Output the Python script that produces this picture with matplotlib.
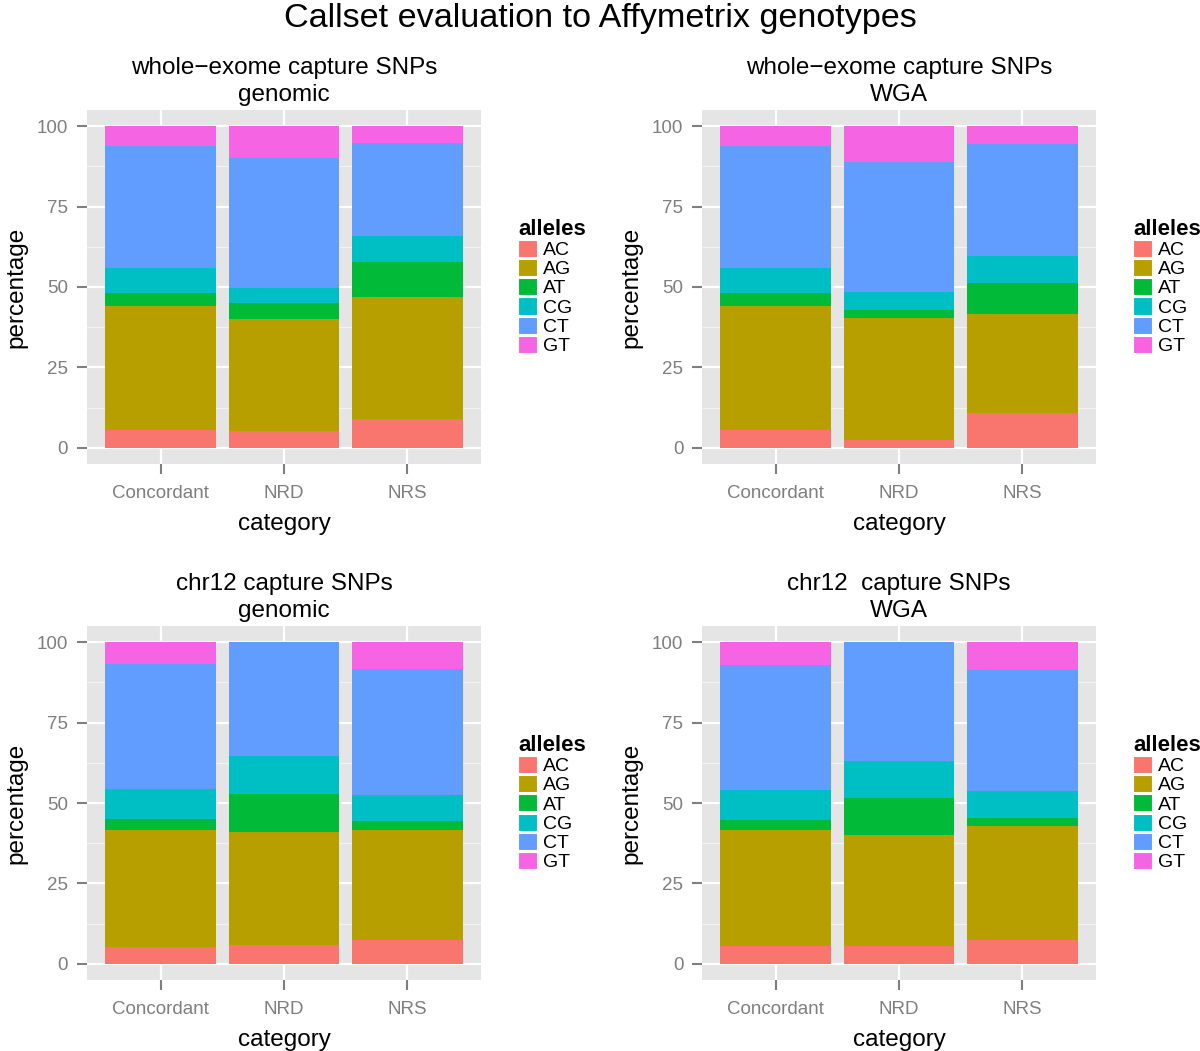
import matplotlib
matplotlib.use("Agg")
import matplotlib.pyplot as plt
from matplotlib.patches import Patch
import numpy as np

plt.rcParams['font.family'] = ['Liberation Sans', 'DejaVu Sans']

categories = ["Concordant", "NRD", "NRS"]
alleles = ["AC", "AG", "AT", "CG", "CT", "GT"]
colors = ["#F8766D", "#B79F00", "#00BA38", "#00BFC4", "#619CFF", "#F564E3"]

# percentage per allele (rows) for each category (columns)
exome_genomic = [
    [5.5, 5.1, 9.0],
    [38.7, 34.9, 37.9],
    [3.8, 4.9, 11.0],
    [7.8, 4.9, 8.1],
    [38.1, 40.2, 28.9],
    [6.1, 10.0, 5.1],
]
exome_wga = [
    [5.5, 2.6, 10.7],
    [38.7, 37.8, 30.8],
    [3.8, 2.5, 9.6],
    [7.9, 5.5, 8.4],
    [38.0, 40.5, 35.0],
    [6.1, 11.1, 5.5],
]
chr12_genomic = [
    [5.4, 5.9, 7.5],
    [36.3, 35.2, 34.1],
    [3.3, 11.6, 2.9],
    [9.2, 11.8, 8.1],
    [39.0, 35.5, 39.0],
    [6.8, 0.0, 8.4],
]
chr12_wga = [
    [5.5, 5.7, 7.4],
    [36.0, 34.5, 35.3],
    [3.3, 11.5, 2.7],
    [9.1, 11.5, 8.2],
    [39.1, 36.8, 37.8],
    [7.0, 0.0, 8.6],
]

panel_titles = [
    "whole\u2212exome capture SNPs\ngenomic",
    "whole\u2212exome capture SNPs\nWGA",
    "chr12 capture SNPs\ngenomic",
    "chr12  capture SNPs\nWGA",
]
panel_data = [exome_genomic, exome_wga, chr12_genomic, chr12_wga]

W, H = 1200, 1051
fig = plt.figure(figsize=(W / 100, H / 100), dpi=100)

# axes boxes in pixels: left, top, right, bottom
boxes = [
    (87, 110, 481, 464),
    (702, 110, 1096, 464),
    (87, 626, 481, 980),
    (702, 626, 1096, 980),
]

fig.text(0.5, 1 - 18 / H, "Callset evaluation to Affymetrix genotypes",
         ha="center", va="center", fontsize=24.6)

x = np.arange(1, len(categories) + 1)
for (l, t, r, b), data, title in zip(boxes, panel_data, panel_titles):
    ax = fig.add_axes([l / W, 1 - b / H, (r - l) / W, (b - t) / H])
    ax.set_facecolor("#E5E5E5")
    for s in ax.spines.values():
        s.set_visible(False)
    ax.set_xlim(0.4, 3.6)
    ax.set_ylim(-5, 105)
    ax.set_yticks([0, 25, 50, 75, 100])
    ax.set_yticks([12.5, 37.5, 62.5, 87.5], minor=True)
    ax.set_xticks(x)
    ax.set_xticklabels(categories)
    ax.grid(True, which="major", color="white", linewidth=1.6)
    ax.grid(True, which="minor", axis="y", color="#F2F2F2", linewidth=0.9)
    ax.set_axisbelow(True)
    ax.tick_params(axis="both", which="major", direction="out", length=7,
                   width=1.5, color="#7F7F7F", labelcolor="#7F7F7F",
                   labelsize=13.5, pad=6.5)
    ax.tick_params(axis="x", which="major", pad=8)
    ax.tick_params(axis="both", which="minor", length=0)
    bottom = np.zeros(len(categories))
    for vals, c in zip(data, colors):
        vals = np.array(vals)
        ax.bar(x, vals, width=0.9, bottom=bottom, color=c, edgecolor="none",
               linewidth=0)
        bottom += vals
    ax.set_xlabel("category", fontsize=17.5, labelpad=8)
    ax.set_ylabel("percentage", fontsize=17.5, labelpad=7)
    ax.set_title(title, fontsize=17.5, linespacing=1.3, pad=6.5)
    handles = [Patch(facecolor=c, edgecolor="white", linewidth=0.8) for c in colors]
    leg = ax.legend(handles, alleles, title="alleles", loc="center left",
                    bbox_to_anchor=(1 + 37 / 394, 0.5), frameon=False,
                    fontsize=14, handlelength=1.0, handleheight=0.97,
                    labelspacing=0.0, handletextpad=0.3, borderpad=0,
                    borderaxespad=0, alignment="left")
    leg.get_title().set_fontsize(16)
    leg.get_title().set_fontweight("bold")

fig.savefig("out.png", dpi=100)
